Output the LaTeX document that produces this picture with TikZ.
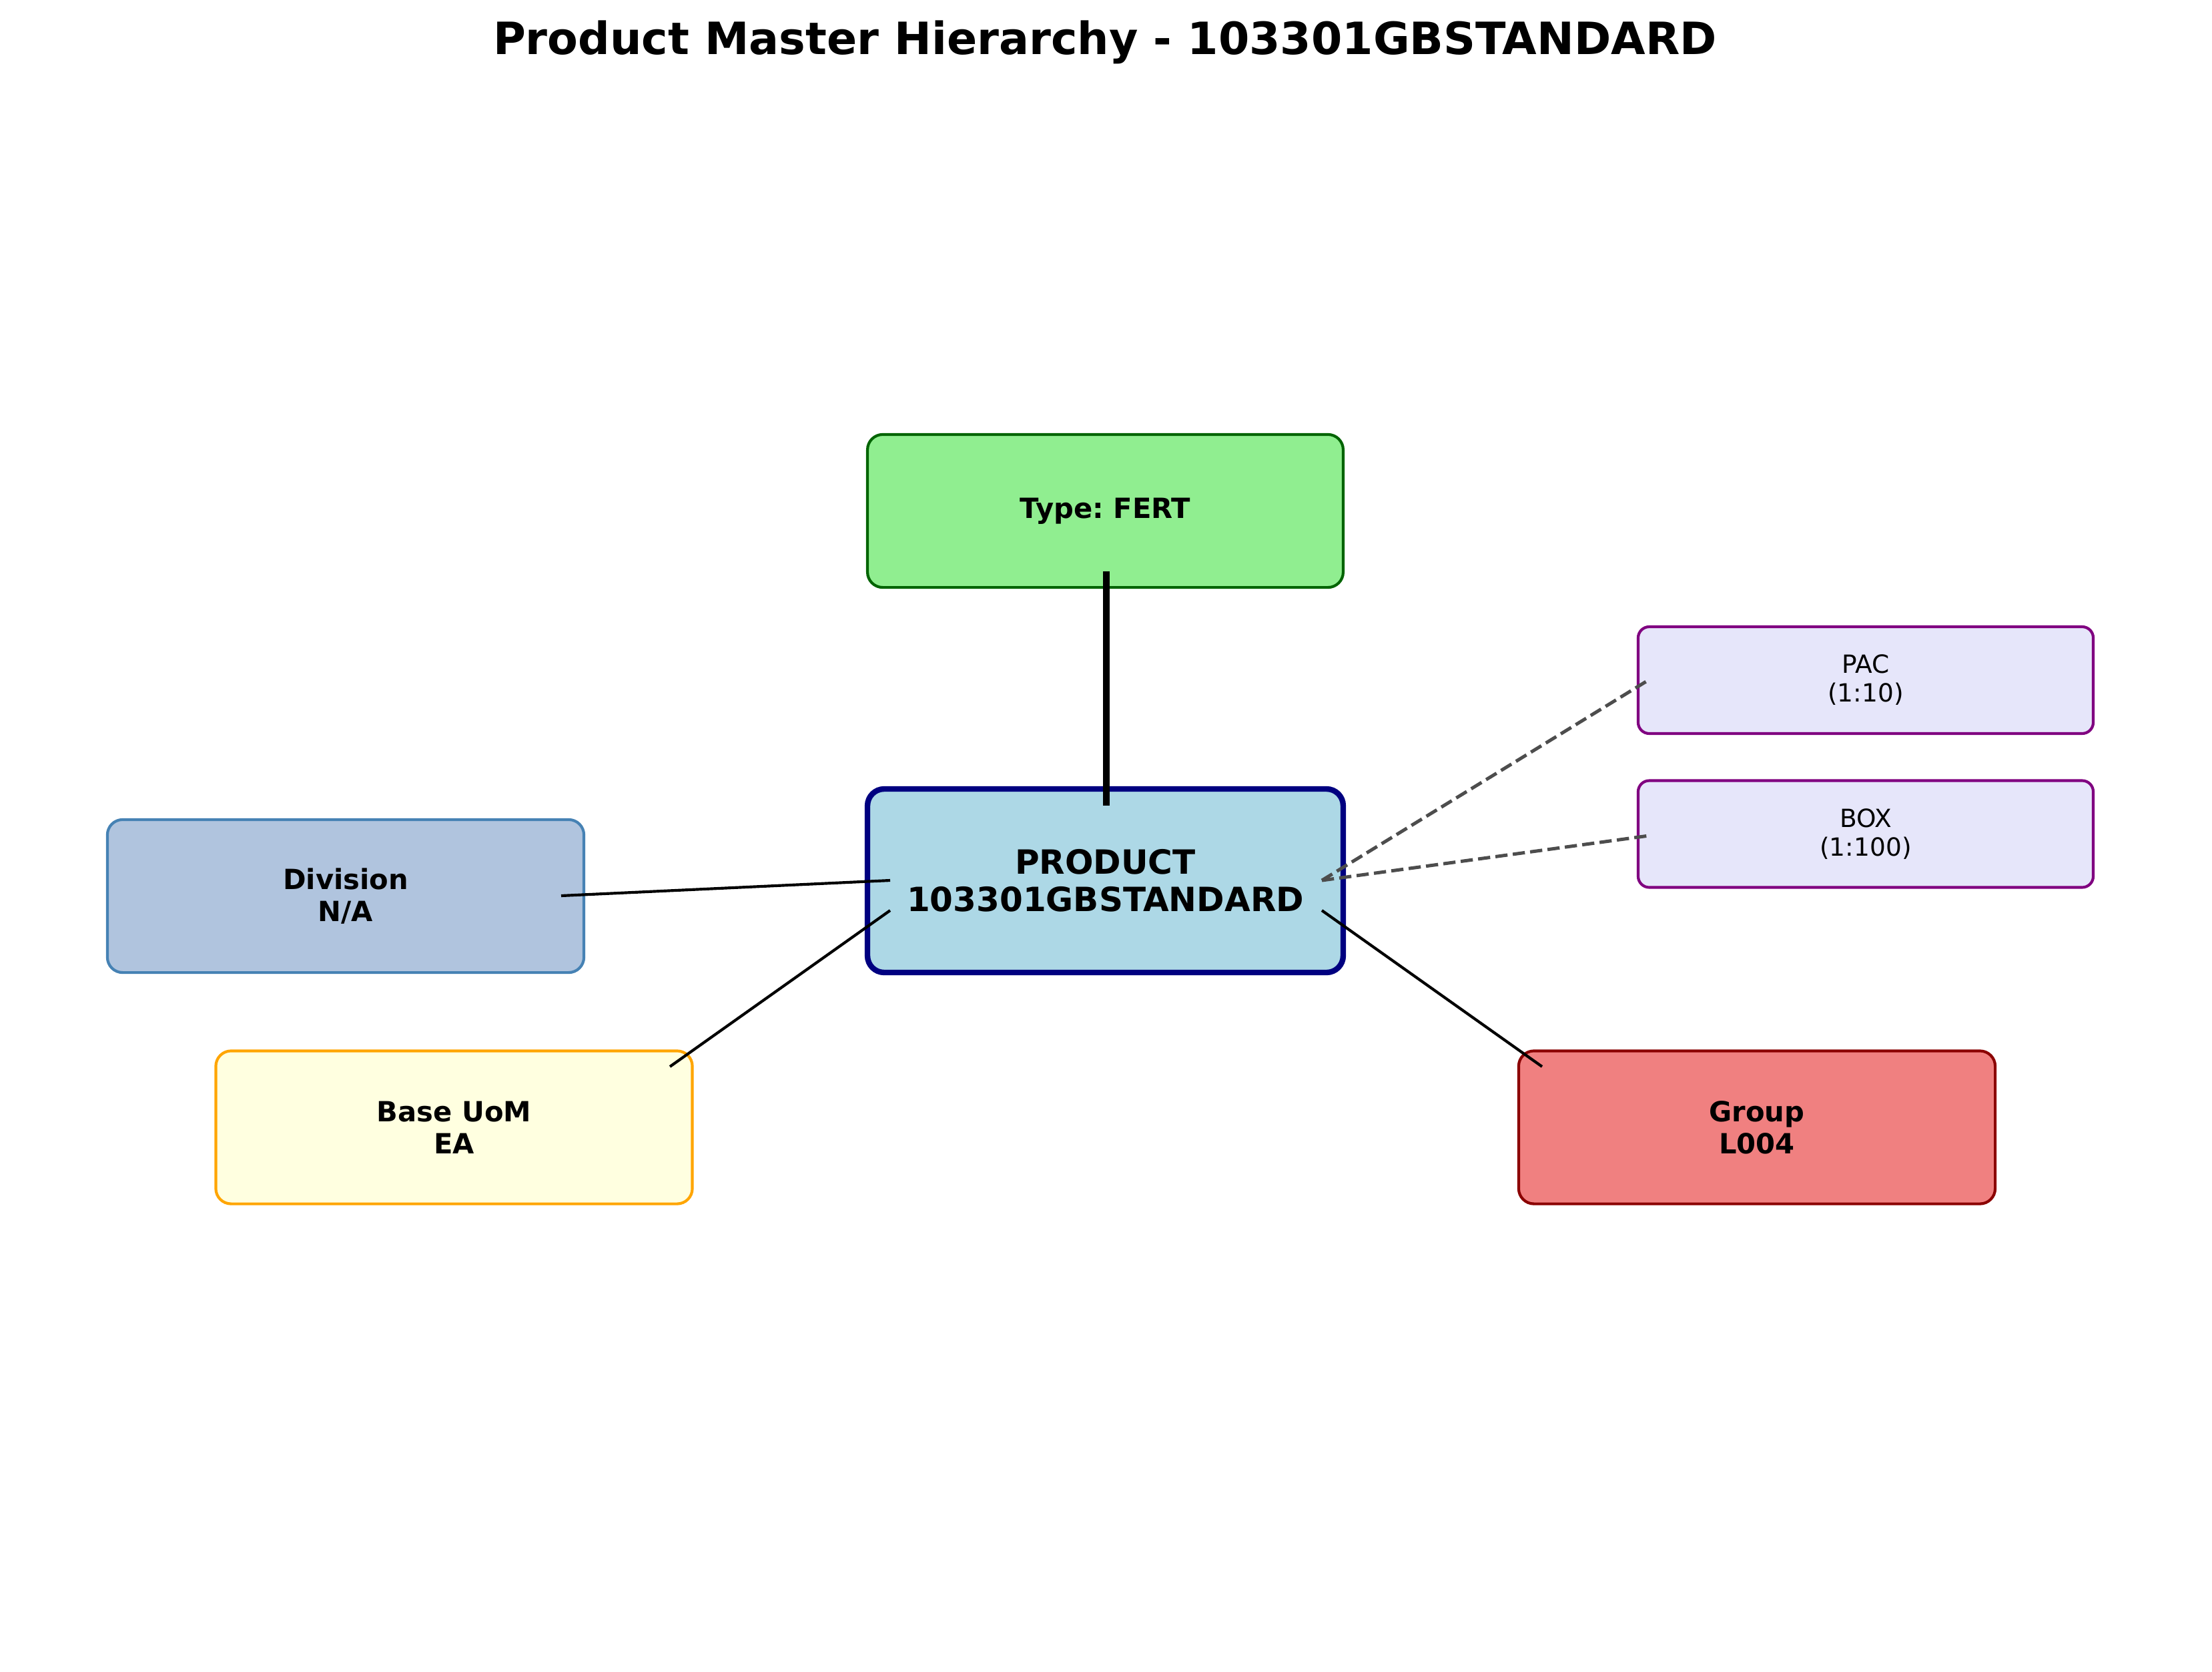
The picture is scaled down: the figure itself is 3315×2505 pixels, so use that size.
\documentclass[tikz,border=0pt]{standalone}
\usepackage{fontspec}
\setmainfont{DejaVu Sans}
\usetikzlibrary{calc}
\frenchspacing
\definecolor{cTypeF}{HTML}{90EE90}
\definecolor{cTypeD}{HTML}{006400}
\definecolor{cProdF}{HTML}{ADD8E6}
\definecolor{cProdD}{HTML}{000080}
\definecolor{cDivF}{HTML}{B0C4DE}
\definecolor{cDivD}{HTML}{4682B4}
\definecolor{cBaseF}{HTML}{FFFFE0}
\definecolor{cBaseD}{HTML}{FFA500}
\definecolor{cGrpF}{HTML}{F08080}
\definecolor{cGrpD}{HTML}{8B0000}
\definecolor{cUomF}{HTML}{E6E6FA}
\definecolor{cUomD}{HTML}{800080}
\definecolor{cDash}{HTML}{4D4D4D}
\tikzset{
  attrbox/.style={draw, line width=1pt, rounded corners=5.5pt, inner sep=0pt, outer sep=0pt,
    minimum width=171.4pt, minimum height=55pt, align=center,
    font=\fontsize{10}{11.5}\selectfont\bfseries},
  prodbox/.style={draw=cProdD, fill=cProdF, line width=2pt, rounded corners=6pt, inner sep=0pt, outer sep=0pt,
    minimum width=171.1pt, minimum height=66pt, align=center,
    font=\fontsize{12}{13.5}\selectfont\bfseries},
  uombox/.style={draw=cUomD, fill=cUomF, line width=1pt, rounded corners=4pt, inner sep=0pt, outer sep=0pt,
    minimum width=163.7pt, minimum height=38.4pt, align=center,
    font=\fontsize{9}{10.3}\selectfont},
  thinlink/.style={line width=1pt, black},
  thicklink/.style={line width=2.2pt, black},
  dashlink/.style={line width=1.2pt, cDash, dash pattern=on 4.4pt off 1.9pt},
  titletext/.style={font=\fontsize{16}{19}\selectfont\bfseries}
}
\begin{document}
\begin{tikzpicture}[x=0.24pt, y=-0.24pt]
\useasboundingbox (0,0) rectangle (3315,2505);
\node[titletext] (title) at (1656,63) {Product Master Hierarchy - 103301GBSTANDARD};

\node[attrbox, draw=cTypeD, fill=cTypeF, minimum width=171.1pt] (typ) at (1656.5,765.5) {Type: FERT};
\node[prodbox] (prod) at (1656.5,1319.5) {PRODUCT\\103301GBSTANDARD};
\node[attrbox, draw=cDivD, fill=cDivF] (div) at (518,1342.5) {Division\\N/A};
\node[attrbox, draw=cBaseD, fill=cBaseF] (base) at (680.5,1689) {Base UoM\\EA};
\node[attrbox, draw=cGrpD, fill=cGrpF] (grp) at (2633,1689) {Group\\L004};
\node[uombox] (pac) at (2796,1019) {PAC\\(1:10)};
\node[uombox] (box) at (2796,1249.5) {BOX\\(1:100)};

\coordinate (typEnd) at ($(typ.center)+(1.5,90.5)$);
\coordinate (prodTop) at ($(prod.center)+(1.5,-112.5)$);
\coordinate (prodL) at ($(prod.center)+(-322.5,-0.5)$);
\coordinate (prodLL) at ($(prod.center)+(-322.5,44.5)$);
\coordinate (prodR) at ($(prod.center)+(324.5,-0.5)$);
\coordinate (prodRL) at ($(prod.center)+(324.5,44.5)$);
\coordinate (divEnd) at ($(div.center)+(323,-0.5)$);
\coordinate (baseEnd) at ($(base.center)+(323.5,-91)$);
\coordinate (grpEnd) at ($(grp.center)+(-322,-91)$);
\coordinate (pacEnd) at ($(pac.center)+(-329,2)$);
\coordinate (boxEnd) at ($(box.center)+(-325,2.5)$);

\draw[thicklink] (typEnd) -- (prodTop);
\draw[thinlink] (divEnd) -- (prodL);
\draw[thinlink] (baseEnd) -- (prodLL);
\draw[thinlink] (prodRL) -- (grpEnd);
\draw[dashlink] (prodR) -- (pacEnd);
\draw[dashlink] (prodR) -- (boxEnd);
\end{tikzpicture}
\end{document}
